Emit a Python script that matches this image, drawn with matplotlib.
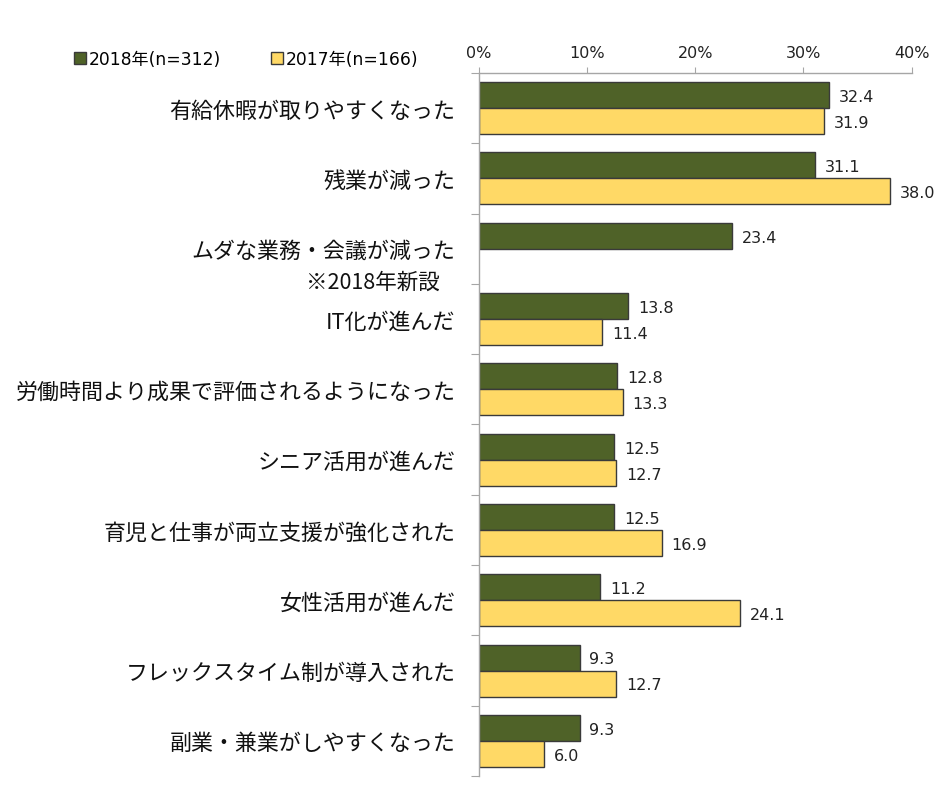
import matplotlib.pyplot as plt
from matplotlib.patches import Patch
import numpy as np

plt.rcParams['font.family'] = ['DejaVu Sans', 'Noto Sans CJK JP']

# data
categories = ['有給休暇が取りやすくなった', '残業が減った', 'ムダな業務・会議が減った',
              'IT化が進んだ', '労働時間より成果で評価されるようになった', 'シニア活用が進んだ',
              '育児と仕事が両立支援が強化された', '女性活用が進んだ', 'フレックスタイム制が導入された',
              '副業・兼業がしやすくなった']
notes = {2: '※2018年新設'}
vals_2018 = [32.4, 31.1, 23.4, 13.8, 12.8, 12.5, 12.5, 11.2, 9.3, 9.3]
vals_2017 = [31.9, 38.0, None, 11.4, 13.3, 12.7, 16.9, 24.1, 12.7, 6.0]
series_names = ['2018年(n=312)', '2017年(n=166)']
ticks = [0, 10, 20, 30, 40]

c18 = '#4F6228'
c17 = '#FFD966'
edge = '#3A3A3A'
grey = '#A6A6A6'
lab_font = ['Noto Sans CJK JP', 'DejaVu Sans']

fig = plt.figure(figsize=(9.4, 8.03), dpi=100)
ax = fig.add_axes([0.5096, 0.0324, 0.4602, 0.8755])

y = np.arange(len(categories))
h = 0.37
ax.barh(y - h / 2, vals_2018, height=h, color=c18, edgecolor=edge, linewidth=1)
v17 = [v if v is not None else 0 for v in vals_2017]
bars17 = ax.barh(y + h / 2, v17, height=h, color=c17, edgecolor=edge, linewidth=1)
for b, v in zip(bars17, vals_2017):
    if v is None:
        b.set_visible(False)

for yi, v in zip(y, vals_2018):
    ax.annotate(f'{v:.1f}', (v, yi - h / 2), xytext=(7, -1), textcoords='offset points',
                ha='left', va='center', fontsize=11.5, color='#222222')
for yi, v in zip(y, vals_2017):
    if v is None:
        continue
    ax.annotate(f'{v:.1f}', (v, yi + h / 2), xytext=(7, -1), textcoords='offset points',
                ha='left', va='center', fontsize=11.5, color='#222222')

ax.set_xlim(0, 40)
ax.set_ylim(len(categories) - 0.5, -0.5)
ax.xaxis.tick_top()
ax.set_xticks(ticks)
ax.set_xticklabels([f'{t}%' for t in ticks], fontsize=11.5, color='#222222')
ax.tick_params(axis='x', direction='out', length=4, color=grey, pad=5)

ax.set_yticks(np.arange(len(categories) + 1) - 0.5)
ax.set_yticklabels([])
ax.set_yticks(y, minor=True)
ax.set_yticklabels(categories, minor=True, fontsize=15.8, color='#111111', family=lab_font)
ax.tick_params(axis='y', which='major', direction='out', length=6, color=grey)
ax.tick_params(axis='y', which='minor', length=0, pad=17)

for i, txt in notes.items():
    ax.annotate(txt, (0, i), xytext=(-28, -24), textcoords='offset points',
                ha='right', va='center', fontsize=15.5, color='#111111', family=lab_font)

for s in ['right', 'bottom']:
    ax.spines[s].set_visible(False)
for s in ['left', 'top']:
    ax.spines[s].set_color(grey)
    ax.spines[s].set_linewidth(1)

handles = [Patch(facecolor=c18, edgecolor=edge), Patch(facecolor=c17, edgecolor=edge)]
fig.legend(handles, series_names, loc='center left', bbox_to_anchor=(0.062, 0.925), ncol=2,
           frameon=False, fontsize=12.3, handlelength=0.7, handleheight=0.7,
           handletextpad=0.2, columnspacing=2.9)

fig.savefig('out.png', dpi=100)
